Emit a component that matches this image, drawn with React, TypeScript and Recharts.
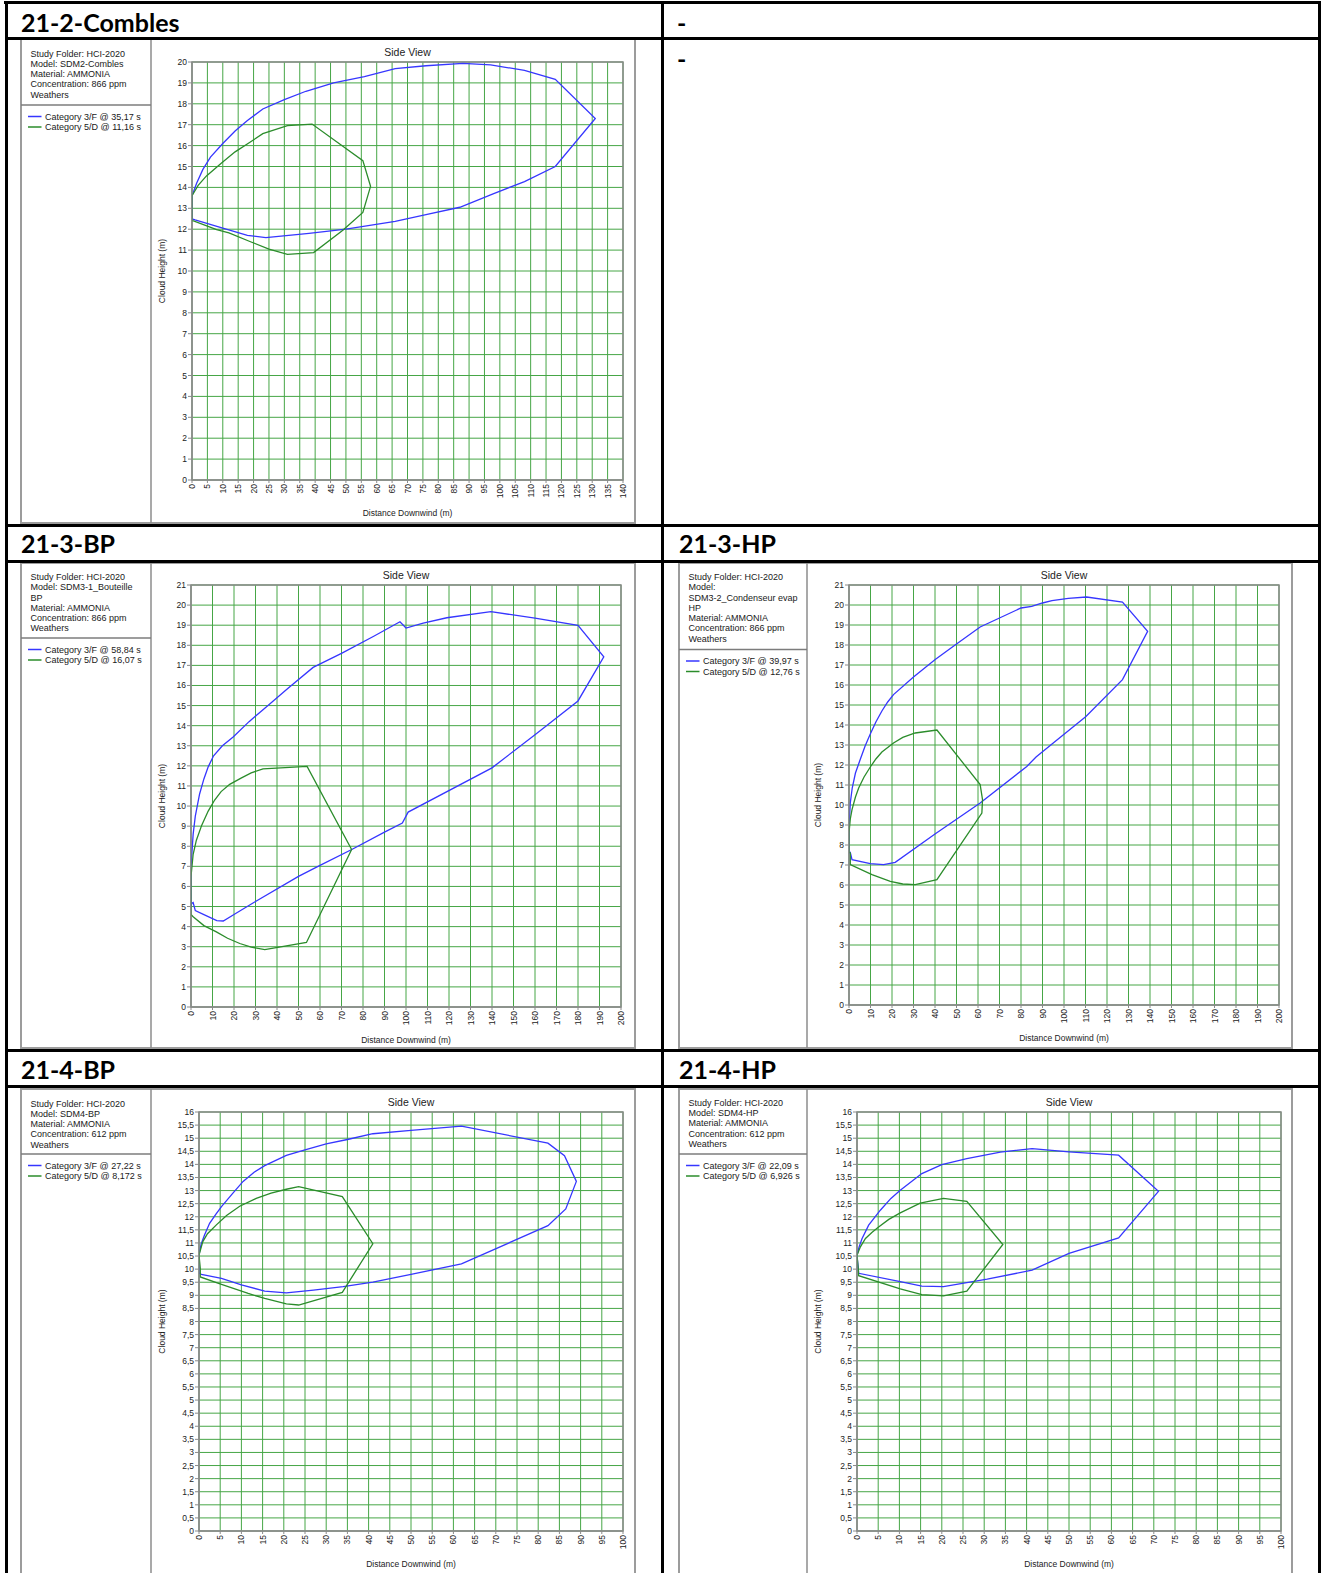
import React from 'react';
import { LineChart, Line, XAxis, YAxis, CartesianGrid, ReferenceArea } from 'recharts';

// ---------- tick labels ----------
const X_TICKS_140 = [0, 5, 10, 15, 20, 25, 30, 35, 40, 45, 50, 55, 60, 65, 70, 75, 80, 85, 90, 95, 100, 105, 110, 115, 120, 125, 130, 135, 140];
const X_TICKS_200 = [0, 10, 20, 30, 40, 50, 60, 70, 80, 90, 100, 110, 120, 130, 140, 150, 160, 170, 180, 190, 200];
const X_TICKS_100 = [0, 5, 10, 15, 20, 25, 30, 35, 40, 45, 50, 55, 60, 65, 70, 75, 80, 85, 90, 95, 100];
const Y_TICKS_20 = [0, 1, 2, 3, 4, 5, 6, 7, 8, 9, 10, 11, 12, 13, 14, 15, 16, 17, 18, 19, 20];
const Y_TICKS_21 = [0, 1, 2, 3, 4, 5, 6, 7, 8, 9, 10, 11, 12, 13, 14, 15, 16, 17, 18, 19, 20, 21];
const Y_TICKS_16 = [0, 0.5, 1, 1.5, 2, 2.5, 3, 3.5, 4, 4.5, 5, 5.5, 6, 6.5, 7, 7.5, 8, 8.5, 9, 9.5, 10, 10.5, 11, 11.5, 12, 12.5, 13, 13.5, 14, 14.5, 15, 15.5, 16];

// ---------- series (distance downwind m, cloud height m) ----------
const COMBLES_3F = [[0, 13.6], [1.5, 14.2], [3.5, 14.85], [6, 15.45], [10, 16.1], [14, 16.7], [18, 17.2], [23, 17.75], [30, 18.2], [37, 18.6], [46, 19.0], [56, 19.3], [66, 19.68], [76, 19.82], [88, 19.93], [97, 19.86], [108, 19.6], [118, 19.17], [131, 17.3], [118, 15.0], [108, 14.28], [98, 13.7], [87, 13.05], [76, 12.7], [66, 12.37], [50, 12.0], [38, 11.8], [24, 11.6], [18, 11.7], [10, 12.05], [1, 12.45], [0, 12.5], [0, 13.6]];
const COMBLES_5D = [[0, 13.6], [2, 14.1], [4.7, 14.55], [9.5, 15.16], [14, 15.7], [18.7, 16.15], [23, 16.57], [31, 16.96], [39, 17.03], [55.5, 15.28], [58, 14.05], [55.5, 12.8], [49, 11.95], [39.5, 10.88], [31, 10.8], [25, 11.05], [19, 11.4], [12, 11.82], [8, 11.98], [0.5, 12.4], [0, 12.4], [0, 13.6]];

const BP213_3F = [[0, 7.0], [1, 8.6], [2, 9.5], [4, 10.6], [6, 11.35], [8, 11.95], [10.5, 12.5], [14.6, 13.0], [19.6, 13.44], [27, 14.2], [35, 14.93], [45, 15.85], [56.8, 16.9], [70, 17.6], [85, 18.45], [97.2, 19.17], [100, 18.86], [108, 19.1], [119, 19.37], [139.5, 19.67], [160, 19.35], [180, 18.99], [192, 17.43], [180, 15.23], [160, 13.55], [140, 11.9], [101, 9.7], [98.3, 9.15], [90, 8.7], [75, 7.85], [60, 7.05], [50, 6.5], [30, 5.25], [20, 4.6], [15, 4.28], [12, 4.3], [6, 4.6], [2, 4.8], [1, 5.2], [0.3, 5.15], [0, 5.0], [0, 7.0]];
const BP213_5D = [[0, 6.5], [1, 7.6], [2.5, 8.3], [5, 9.05], [8, 9.75], [11, 10.3], [14, 10.72], [18, 11.08], [23.5, 11.4], [28, 11.65], [33.5, 11.85], [54, 11.97], [74.7, 7.84], [53.7, 3.21], [34.3, 2.86], [28, 2.98], [22.7, 3.16], [17, 3.42], [11.8, 3.74], [6, 4.05], [1, 4.49], [0, 4.6], [0, 6.5]];

const HP213_3F = [[0, 8.85], [0.6, 10.1], [1.5, 10.85], [3, 11.6], [5.3, 12.3], [7.5, 12.95], [9.9, 13.55], [12.5, 14.15], [15.3, 14.7], [18, 15.15], [20.7, 15.52], [30, 16.4], [40.1, 17.27], [50, 18.05], [61, 18.9], [70, 19.35], [80, 19.85], [85, 19.93], [90, 20.1], [94.4, 20.22], [102, 20.33], [110.5, 20.4], [127.2, 20.15], [138.9, 18.68], [127.2, 16.27], [110.2, 14.43], [95, 13.1], [87, 12.4], [82.7, 11.93], [61, 10.1], [40, 8.55], [21.5, 7.13], [16.1, 7.02], [9.9, 7.07], [1.4, 7.27], [0.6, 7.63], [0, 7.6], [0, 8.85]];
const HP213_5D = [[0, 8.6], [0.6, 9.3], [1.4, 9.77], [3, 10.4], [4.5, 10.85], [7, 11.4], [9.9, 11.9], [12.5, 12.3], [15.3, 12.65], [20.7, 13.1], [25, 13.38], [30.8, 13.6], [40.9, 13.75], [61, 11.02], [62.1, 10.27], [61.8, 9.6], [40.9, 6.27], [30.8, 6.02], [25, 6.05], [19.2, 6.18], [10.7, 6.52], [0.6, 7.02], [0.6, 7.6], [0, 7.65], [0, 8.6]];

const BP214_3F = [[0, 10.54], [0.5, 10.95], [1.3, 11.3], [2.5, 11.75], [4, 12.1], [5.3, 12.39], [8, 12.9], [10.4, 13.35], [13, 13.7], [15.5, 13.95], [20.6, 14.34], [25, 14.55], [30, 14.78], [35, 14.95], [41, 15.17], [50, 15.3], [61.9, 15.46], [82.3, 14.81], [86.2, 14.33], [89, 13.35], [86.5, 12.3], [82.3, 11.66], [61.9, 10.2], [50, 9.8], [41, 9.5], [34, 9.33], [27, 9.2], [20.6, 9.09], [15.5, 9.16], [10, 9.4], [5.3, 9.65], [0.55, 9.8], [0, 9.85], [0, 10.54]];
const BP214_5D = [[0, 10.54], [0.9, 11.05], [2, 11.35], [4.1, 11.69], [6.5, 12.05], [9.6, 12.4], [13.5, 12.7], [17, 12.9], [20.6, 13.05], [23.5, 13.15], [33.8, 12.77], [41, 10.97], [33.8, 9.11], [23.5, 8.63], [20.6, 8.67], [15.5, 8.88], [11.6, 9.07], [5.3, 9.42], [0.3, 9.7], [0.3, 10.03], [0, 10.54]];

const HP214_3F = [[0, 10.53], [0.5, 10.85], [1.2, 11.17], [2.75, 11.68], [5.5, 12.25], [8, 12.7], [10.2, 13.01], [15.3, 13.65], [20, 13.99], [25.9, 14.22], [33.8, 14.47], [41.3, 14.6], [50, 14.48], [61.7, 14.35], [71.1, 12.97], [61.7, 11.19], [50, 10.6], [41.3, 9.96], [30.7, 9.62], [20.4, 9.33], [15.3, 9.35], [10.2, 9.52], [0.4, 9.84], [0.3, 10.03], [0, 10.53]];
const HP214_5D = [[0, 10.53], [0.8, 10.85], [2, 11.17], [3.5, 11.4], [5.1, 11.61], [7.5, 11.9], [10.2, 12.15], [14.9, 12.52], [20.4, 12.7], [25.9, 12.59], [34.4, 10.94], [25.9, 9.16], [20.4, 8.98], [15.3, 9.03], [10.2, 9.25], [0.4, 9.75], [0.3, 10.0], [0, 10.53]];

// ---------- texts ----------
const HEADERS = ['21-2-Combles', '-', '21-3-BP', '21-3-HP', '21-4-BP', '21-4-HP'];
const INFO_COMBLES = ['Study Folder: HCI-2020', 'Model: SDM2-Combles', 'Material: AMMONIA', 'Concentration: 866 ppm', 'Weathers'];
const INFO_BP213 = ['Study Folder: HCI-2020', 'Model: SDM3-1_Bouteille', 'BP', 'Material: AMMONIA', 'Concentration: 866 ppm', 'Weathers'];
const INFO_HP213 = ['Study Folder: HCI-2020', 'Model:', 'SDM3-2_Condenseur evap', 'HP', 'Material: AMMONIA', 'Concentration: 866 ppm', 'Weathers'];
const INFO_BP214 = ['Study Folder: HCI-2020', 'Model: SDM4-BP', 'Material: AMMONIA', 'Concentration: 612 ppm', 'Weathers'];
const INFO_HP214 = ['Study Folder: HCI-2020', 'Model: SDM4-HP', 'Material: AMMONIA', 'Concentration: 612 ppm', 'Weathers'];
const LEG_COMBLES = ['Category 3/F @ 35,17 s', 'Category 5/D @ 11,16 s'];
const LEG_BP213 = ['Category 3/F @ 58,84 s', 'Category 5/D @ 16,07 s'];
const LEG_HP213 = ['Category 3/F @ 39,97 s', 'Category 5/D @ 12,76 s'];
const LEG_BP214 = ['Category 3/F @ 27,22 s', 'Category 5/D @ 8,172 s'];
const LEG_HP214 = ['Category 3/F @ 22,09 s', 'Category 5/D @ 6,926 s'];

const BLUE = '#3636ff';
const GREEN = '#2b8c2b';
const GRID = '#46a646';
const FRAME = '#8a8a8a';
const FONT = '"Liberation Sans", Arial, sans-serif';
const HFONT = 'Lato, "Open Sans", sans-serif';

const toPts = (a: number[][]) => a.map(([x, y]) => ({ x, y }));

type Spec = {
  box: [number, number, number, number];
  div: number;
  sep: number;
  infoBase: number;
  info: string[];
  legend: string[];
  cl: number; ct: number; cw: number; ch: number; mt: number; mr: number; yw: number; xh: number;
  xMax: number; xTicks: number[]; yMax: number; yTicks: number[]; comma?: boolean;
  s3: number[][]; s5: number[][];
};

const SPECS: Spec[] = [
  { box: [21, 39, 635, 523], div: 151, sep: 105, infoBase: 56.5, info: INFO_COMBLES, legend: LEG_COMBLES,
    cl: 152, ct: 41, cw: 482, ch: 481, mt: 21, mr: 11, yw: 40, xh: 42,
    xMax: 140, xTicks: X_TICKS_140, yMax: 20, yTicks: Y_TICKS_20, s3: COMBLES_3F, s5: COMBLES_5D },
  { box: [21, 563, 635, 1048], div: 151, sep: 638, infoBase: 579.9, info: INFO_BP213, legend: LEG_BP213,
    cl: 152, ct: 565, cw: 482, ch: 482, mt: 20, mr: 13, yw: 39, xh: 40,
    xMax: 200, xTicks: X_TICKS_200, yMax: 21, yTicks: Y_TICKS_21, s3: BP213_3F, s5: BP213_5D },
  { box: [679, 563, 1292, 1048], div: 807, sep: 649.5, infoBase: 579.9, info: INFO_HP213, legend: LEG_HP213,
    cl: 808, ct: 565, cw: 482, ch: 482, mt: 20, mr: 11, yw: 41, xh: 42,
    xMax: 200, xTicks: X_TICKS_200, yMax: 21, yTicks: Y_TICKS_21, s3: HP213_3F, s5: HP213_5D },
  { box: [21, 1089, 635, 1580], div: 151, sep: 1154, infoBase: 1106.5, info: INFO_BP214, legend: LEG_BP214,
    cl: 152, ct: 1091, cw: 482, ch: 482, mt: 21, mr: 11, yw: 47, xh: 42,
    xMax: 100, xTicks: X_TICKS_100, yMax: 16, yTicks: Y_TICKS_16, comma: true, s3: BP214_3F, s5: BP214_5D },
  { box: [679, 1089, 1292, 1580], div: 807, sep: 1154, infoBase: 1105.8, info: INFO_HP214, legend: LEG_HP214,
    cl: 808, ct: 1091, cw: 482, ch: 482, mt: 21, mr: 9, yw: 49, xh: 42,
    xMax: 100, xTicks: X_TICKS_100, yMax: 16, yTicks: Y_TICKS_16, comma: true, s3: HP214_3F, s5: HP214_5D },
];

const RotTick = (props: any) => {
  const { x, y, payload } = props;
  return (
    <text x={x} y={y} transform={`rotate(-90 ${x} ${y})`} textAnchor="end" dominantBaseline="central"
      fontSize={8.5} fill="#222" fontFamily={FONT}>
      {payload.value}
    </text>
  );
};

function Decor({ s }: { s: Spec }) {
  const [bl, bt, br, bb] = s.box;
  const plotL = s.cl + s.yw;
  const plotR = s.cl + s.cw - s.mr;
  const plotT = s.ct + s.mt;
  const plotB = s.ct + s.ch - s.xh;
  const cx = (plotL + plotR) / 2;
  const cy = (plotT + plotB) / 2;
  const textX = bl + 9.5;
  const ylx = s.div + 10.8;
  return (
    <g>
      <rect x={bl} y={bt} width={br - bl} height={bb - bt} fill="#fff" stroke="#9c9c9c" strokeWidth={2} />
      <line x1={s.div} y1={bt} x2={s.div} y2={bb} stroke="#8c8c8c" strokeWidth={1.5} />
      <line x1={bl} y1={s.sep} x2={s.div} y2={s.sep} stroke="#7c7c7c" strokeWidth={1.5} />
      {s.info.map((t, i) => (
        <text key={i} x={textX} y={s.infoBase + i * 10.3} fontSize={9} fill="#1a1a1a" fontFamily={FONT}>{t}</text>
      ))}
      {s.legend.map((t, i) => {
        const ly = s.sep + 11.5 + i * 10.5;
        return (
          <g key={i}>
            <line x1={textX - 2.5} x2={textX + 11} y1={ly} y2={ly} stroke={i === 0 ? BLUE : GREEN} strokeWidth={1.5} />
            <text x={textX + 14.5} y={ly + 3.2} fontSize={9} fill="#1a1a1a" fontFamily={FONT}>{t}</text>
          </g>
        );
      })}
      <text x={cx} y={plotT - 10.3 + 3.8} textAnchor="middle" fontSize={10.5} fill="#222" fontFamily={FONT}>Side View</text>
      <text x={cx} y={plotB + 32.5 + 3.1} textAnchor="middle" fontSize={8.5} fill="#222" fontFamily={FONT}>Distance Downwind (m)</text>
      <text x={ylx} y={cy} transform={`rotate(-90 ${ylx} ${cy})`} textAnchor="middle" dominantBaseline="central"
        fontSize={8.5} fill="#222" fontFamily={FONT}>Cloud Height (m)</text>
    </g>
  );
}

function Plot({ s }: { s: Spec }) {
  const fmt = (v: number) => (s.comma ? String(v).replace('.', ',') : String(v));
  return (
    <div style={{ position: 'absolute', left: s.cl, top: s.ct, width: s.cw, height: s.ch }}>
      <LineChart width={s.cw} height={s.ch} margin={{ top: s.mt, right: s.mr, left: 0, bottom: 0 }}>
        <CartesianGrid stroke={GRID} strokeWidth={1} />
        <XAxis type="number" dataKey="x" domain={[0, s.xMax]} ticks={s.xTicks} interval={0} height={s.xh}
          tickSize={3} tickMargin={1} axisLine={{ stroke: FRAME }} tickLine={{ stroke: FRAME }}
          tick={<RotTick />} allowDataOverflow />
        <YAxis type="number" dataKey="y" domain={[0, s.yMax]} ticks={s.yTicks} interval={0} width={s.yw}
          tickSize={4} tickMargin={1} axisLine={{ stroke: FRAME }} tickLine={{ stroke: FRAME }}
          tick={{ fontSize: 8.5, fill: '#222', fontFamily: FONT }} tickFormatter={fmt} allowDataOverflow />
        <ReferenceArea x1={0} x2={s.xMax} y1={0} y2={s.yMax} fill="none" fillOpacity={0} stroke={FRAME} strokeWidth={1.5} />
        <Line data={toPts(s.s3)} dataKey="y" type="linear" stroke={BLUE} strokeWidth={1.3} dot={false} activeDot={false} isAnimationActive={false} />
        <Line data={toPts(s.s5)} dataKey="y" type="linear" stroke={GREEN} strokeWidth={1.3} dot={false} activeDot={false} isAnimationActive={false} />
      </LineChart>
    </div>
  );
}

export default function App() {
  const W = 1324;
  const H = 1573;
  const hLines = [37, 524, 560, 1049, 1085];
  const hs = { fontSize: 25, fontWeight: 700, fontFamily: HFONT, fill: '#000' } as const;
  return (
    <div style={{ position: 'absolute', left: 0, top: 0, width: W, height: H, background: '#fff', overflow: 'hidden' }}>
      <svg width={W} height={H} style={{ position: 'absolute', left: 0, top: 0 }}>
        <rect x={0} y={0} width={W} height={H} fill="#fff" />
        {SPECS.map((s, i) => <Decor key={i} s={s} />)}
        {/* table lines */}
        <rect x={4} y={1} width={1317} height={3} fill="#000" />
        <rect x={5} y={1} width={3} height={H} fill="#000" />
        <rect x={1318} y={1} width={3} height={H} fill="#000" />
        <rect x={661} y={1} width={3} height={H} fill="#000" />
        {hLines.map((y, i) => <rect key={i} x={5} y={y} width={1316} height={3} fill="#000" />)}
        {/* headers */}
        <text x={21} y={31.7} {...hs}>{HEADERS[0]}</text>
        <text x={677} y={31.7} {...hs}>{HEADERS[1]}</text>
        <text x={677} y={67.5} {...hs}>-</text>
        <text x={21} y={553.3} {...hs}>{HEADERS[2]}</text>
        <text x={679} y={553.3} {...hs}>{HEADERS[3]}</text>
        <text x={21} y={1079.3} {...hs}>{HEADERS[4]}</text>
        <text x={679} y={1079.3} {...hs}>{HEADERS[5]}</text>
      </svg>
      {SPECS.map((s, i) => <Plot key={i} s={s} />)}
    </div>
  );
}
